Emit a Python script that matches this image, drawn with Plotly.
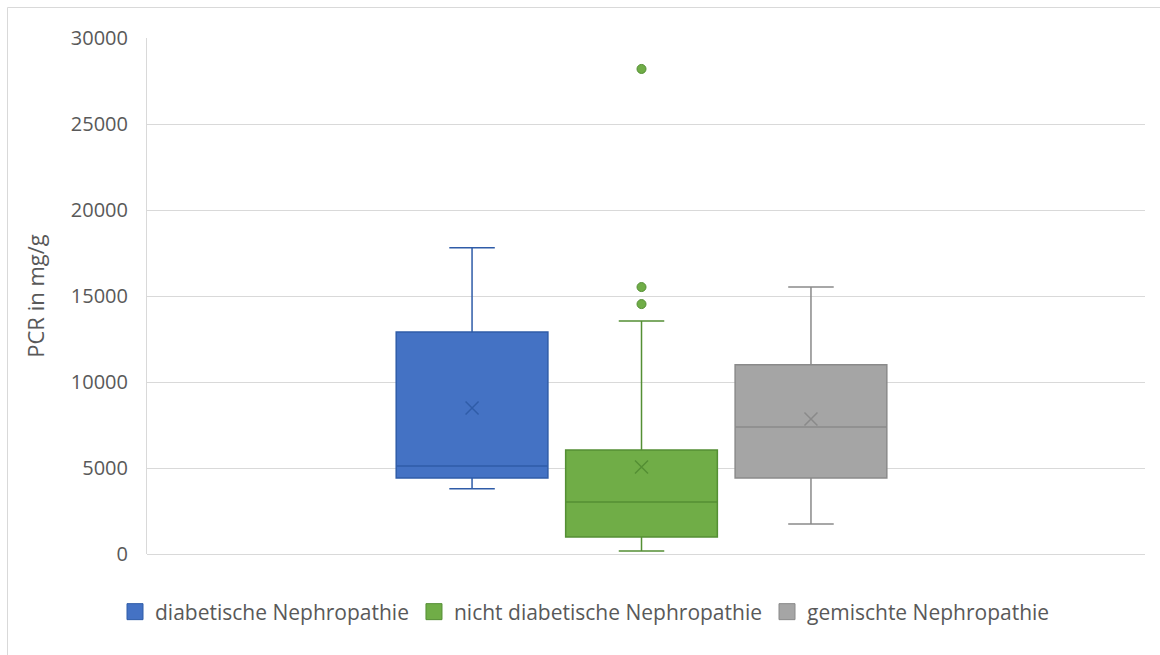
import plotly.graph_objects as go

# Protein-creatinine ratio (PCR, mg/g) by nephropathy group
groups = ["diabetische Nephropathie", "nicht diabetische Nephropathie", "gemischte Nephropathie"]
lower_whisker = [3800, 170, 1750]
q1 = [4420, 990, 4420]
median = [5120, 3020, 7380]
q3 = [12900, 6050, 11000]
upper_whisker = [17800, 13550, 15520]
mean = [8490, 5060, 7850]
outliers = [[], [28200, 15520, 14530], []]

fill_colors = ["#4472C4", "#70AD47", "#A5A5A5"]
line_colors = ["#2F5CA8", "#548F34", "#8A8A8A"]

y_ticks = [0, 5000, 10000, 15000, 20000, 25000, 30000]

W, H = 1160, 655
ML, MR, MT, MB = 147, 15, 38, 101
FONT = "Open Sans"
TEXT = "#595959"
GRID = "#D9D9D9"

# horizontal layout of the three boxes inside one category slot (axis 0..1)
centers = [0.3257, 0.4955, 0.6653]
box_width = 0.152

fig = go.Figure()
for i, name in enumerate(groups):
    fig.add_trace(go.Box(
        x=[centers[i]], q1=[q1[i]], median=[median[i]], q3=[q3[i]],
        lowerfence=[lower_whisker[i]], upperfence=[upper_whisker[i]],
        width=box_width, whiskerwidth=0.3,
        fillcolor=fill_colors[i], line=dict(color=line_colors[i], width=1.5),
        boxpoints=False, showlegend=False, hoverinfo="skip", name=name,
    ))
    fig.add_trace(go.Scatter(
        x=[centers[i]], y=[mean[i]], mode="markers", showlegend=False,
        marker=dict(symbol="x-thin", size=13, line=dict(color=line_colors[i], width=1.5)),
        hoverinfo="skip",
    ))
    if outliers[i]:
        fig.add_trace(go.Scatter(
            x=[centers[i]] * len(outliers[i]), y=outliers[i], mode="markers",
            showlegend=False, hoverinfo="skip",
            marker=dict(symbol="circle", size=9, color=fill_colors[i],
                        line=dict(color=line_colors[i], width=1)),
        ))
    # legend entry
    fig.add_trace(go.Scatter(
        x=[None], y=[None], mode="markers", name=name,
        marker=dict(symbol="square", size=16, color=fill_colors[i],
                    line=dict(color=line_colors[i], width=1)),
    ))

pw, ph = W - ML - MR, H - MT - MB
px = lambda p: (p - ML) / pw
py = lambda p: (H - MB - p) / ph

# outer chart frame (left and top edges)
fig.add_shape(type="path", xref="paper", yref="paper",
              path=f"M {px(7.5)},{py(700)} L {px(7.5)},{py(7.5)} L {px(1200)},{py(7.5)}",
              line=dict(color=GRID, width=1))

fig.update_layout(
    width=W, height=H,
    margin=dict(l=ML, r=MR, t=MT, b=MB),
    paper_bgcolor="white", plot_bgcolor="white",
    font=dict(family=FONT, color=TEXT, size=18),
    xaxis=dict(range=[0, 1], showgrid=False, zeroline=False, showticklabels=False,
               ticks="", showline=False, fixedrange=True),
    yaxis=dict(range=[0, 30000], tickvals=y_ticks, ticktext=[str(v) for v in y_ticks],
               showgrid=True, gridcolor=GRID, gridwidth=1.3,
               zeroline=True, zerolinecolor=GRID, zerolinewidth=1.3,
               showline=True, linecolor=GRID, linewidth=1,
               ticks="outside", ticklen=14, tickcolor="rgba(0,0,0,0)",
               tickfont=dict(size=20, color=TEXT, family=FONT),
               title=dict(text="PCR in mg/g", font=dict(size=22, color=TEXT, family=FONT),
                          standoff=20)),
    legend=dict(orientation="h", x=px(115), xanchor="left", y=py(612), yanchor="middle",
                font=dict(size=21, color=TEXT, family=FONT), bgcolor="rgba(0,0,0,0)",
                itemclick=False),
    showlegend=True,
)

fig.write_html("out.html")
